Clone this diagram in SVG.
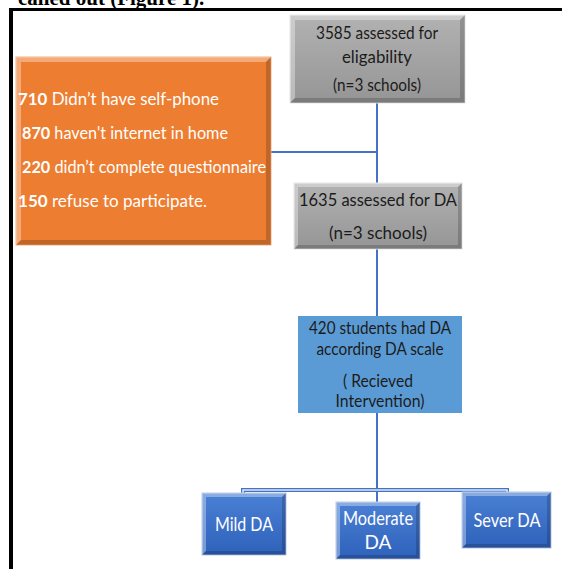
<svg xmlns="http://www.w3.org/2000/svg" width="562" height="569" viewBox="0 0 562 569">
<defs>
<linearGradient id="gGray" x1="0" y1="0" x2="0" y2="1"><stop offset="0" stop-color="#b2b2b2"/><stop offset="1" stop-color="#959595"/></linearGradient>
<linearGradient id="gBlue" x1="0" y1="0" x2="0" y2="1"><stop offset="0" stop-color="#4a80d4"/><stop offset="1" stop-color="#2f62bb"/></linearGradient>
<style>
.t{font-family:Lato,"Open Sans","DejaVu Sans",sans-serif;}
.dk{fill:#1b1b1b;font-size:17px;text-anchor:middle;}
.wh{fill:#ffffff;font-size:19px;text-anchor:middle;}
.or{fill:#ffffff;font-size:17px;}
.or tspan.b{font-weight:bold;}
.ln{stroke:#4472c4;stroke-width:2;fill:none;}
.hl{fill:#ffffff;opacity:0.35;}
.sh{fill:#000000;opacity:0.18;}
</style>
</defs>
<rect width="562" height="569" fill="#ffffff"/>
<text x="18" y="5" style="font-family:'Liberation Serif',serif;font-weight:bold;font-size:21px;fill:#000">called out (Figure 1).</text>
<rect x="9" y="8" width="553" height="3" fill="#000"/>
<rect x="9" y="8" width="4" height="561" fill="#000"/>

<g id="connectors">
<line class="ln" x1="377" y1="103" x2="377" y2="183"/>
<line class="ln" x1="271" y1="152" x2="377" y2="152"/>
<line class="ln" x1="377" y1="249" x2="377" y2="316"/>
<line class="ln" x1="377" y1="412" x2="377" y2="502"/>
<path d="M243 493 V490 H507 V492" stroke="#4472c4" stroke-width="4" fill="none"/>
<path d="M243 493 V490 H507 V492" stroke="#dfe7f5" stroke-width="1.6" fill="none"/>
</g>

<g id="n_eligibility">
<rect x="290" y="15" width="175" height="88" fill="url(#gGray)" stroke="#e6e6e6" stroke-width="1"/>
<polygon class="hl" points="290,15 465,15 460,20 295,20"/>
<polygon class="hl" points="290,15 295,20 295,98 290,103"/>
<polygon class="sh" points="465,15 465,103 460,98 460,20"/>
<polygon class="sh" points="290,103 465,103 460,98 295,98"/>
<text class="t dk" x="377" y="39" textLength="122" lengthAdjust="spacingAndGlyphs">3585 assessed for</text>
<text class="t dk" x="377" y="63" textLength="70" lengthAdjust="spacingAndGlyphs">eligability</text>
<text class="t dk" x="377" y="91" textLength="88" lengthAdjust="spacingAndGlyphs">(n=3 schools)</text>
</g>

<g id="n_excluded">
<rect x="16" y="57" width="255" height="188" fill="#ed7d31" stroke="#f4b183" stroke-width="1"/>
<polygon class="hl" points="16,57 271,57 266,62 21,62"/>
<polygon class="hl" points="16,57 21,62 21,240 16,245"/>
<polygon class="sh" points="271,57 271,245 266,240 266,62"/>
<polygon class="sh" points="16,245 271,245 266,240 21,240"/>
<text class="t or" x="18" y="105" textLength="201" lengthAdjust="spacingAndGlyphs"><tspan class="b">710</tspan> Didn’t have self-phone</text>
<text class="t or" x="22" y="139" textLength="206" lengthAdjust="spacingAndGlyphs"><tspan class="b">870</tspan> haven't internet in home</text>
<text class="t or" x="22" y="173" textLength="244" lengthAdjust="spacingAndGlyphs"><tspan class="b">220</tspan> didn’t complete questionnaire</text>
<text class="t or" x="18" y="207" textLength="189" lengthAdjust="spacingAndGlyphs"><tspan class="b">150</tspan> refuse to participate.</text>
</g>

<g id="n_assessedDA">
<rect x="294" y="183" width="168" height="66" fill="url(#gGray)" stroke="#e6e6e6" stroke-width="1"/>
<polygon class="hl" points="294,183 462,183 458,187 298,187"/>
<polygon class="hl" points="294,183 298,187 298,245 294,249"/>
<polygon class="sh" points="462,183 462,249 458,245 458,187"/>
<polygon class="sh" points="294,249 462,249 458,245 298,245"/>
<text class="t dk" x="378" y="206" style="font-size:18px" textLength="158" lengthAdjust="spacingAndGlyphs">1635 assessed for DA</text>
<text class="t dk" x="378" y="239" style="font-size:18px" textLength="98" lengthAdjust="spacingAndGlyphs">(n=3 schools)</text>
</g>

<g id="n_hadDA">
<rect x="298" y="316" width="164" height="97" fill="#5b9bd5"/>
<text class="t dk" x="380" y="334" style="font-size:17.5px" textLength="142" lengthAdjust="spacingAndGlyphs">420 students had DA</text>
<text class="t dk" x="380" y="355" style="font-size:17.5px" textLength="127" lengthAdjust="spacingAndGlyphs">according DA scale</text>
<text class="t dk" x="378" y="387" style="font-size:17.5px" textLength="70" lengthAdjust="spacingAndGlyphs">( Recieved</text>
<text class="t dk" x="380" y="407" style="font-size:17.5px" textLength="89" lengthAdjust="spacingAndGlyphs">Intervention)</text>
</g>

<g id="n_mild">
<rect x="202" y="493" width="84" height="62" fill="url(#gBlue)" stroke="#b9c9e8" stroke-width="1"/>
<polygon class="hl" points="202,493 286,493 282,497 206,497"/>
<polygon class="hl" points="202,493 206,497 206,551 202,555"/>
<polygon class="sh" points="286,493 286,555 282,551 282,497"/>
<polygon class="sh" points="202,555 286,555 282,551 206,551"/>
<text class="t wh" x="244" y="531" textLength="58" lengthAdjust="spacingAndGlyphs">Mild DA</text>
</g>

<g id="n_moderate">
<rect x="336" y="502" width="84" height="57" fill="url(#gBlue)" stroke="#b9c9e8" stroke-width="1"/>
<polygon class="hl" points="336,502 420,502 416,506 340,506"/>
<polygon class="hl" points="336,502 340,506 340,555 336,559"/>
<polygon class="sh" points="420,502 420,559 416,555 416,506"/>
<polygon class="sh" points="336,559 420,559 416,555 340,555"/>
<text class="t wh" x="378" y="525" textLength="70" lengthAdjust="spacingAndGlyphs">Moderate</text>
<text class="t wh" x="378" y="549">DA</text>
</g>

<g id="n_sever">
<rect x="462" y="492" width="89" height="56" fill="url(#gBlue)" stroke="#b9c9e8" stroke-width="1"/>
<polygon class="hl" points="462,492 551,492 547,496 466,496"/>
<polygon class="hl" points="462,492 466,496 466,544 462,548"/>
<polygon class="sh" points="551,492 551,548 547,544 547,496"/>
<polygon class="sh" points="462,548 551,548 547,544 466,544"/>
<text class="t wh" x="507" y="527" textLength="67" lengthAdjust="spacingAndGlyphs">Sever DA</text>
</g>
</svg>
